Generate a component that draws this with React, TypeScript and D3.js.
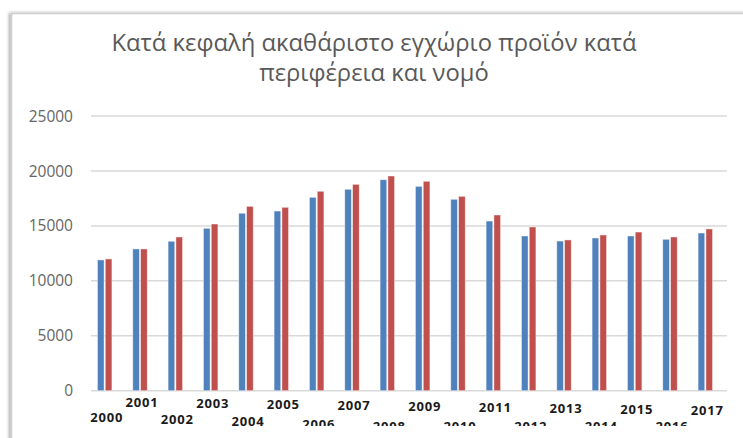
import { useRef, useEffect } from 'react';
import * as d3 from 'd3';

const years = [
  '2000', '2001', '2002', '2003', '2004', '2005', '2006', '2007', '2008',
  '2009', '2010', '2011', '2012', '2013', '2014', '2015', '2016', '2017',
];

// blue series
const seriesA = [
  11900, 12900, 13600, 14780, 16150, 16350, 17600, 18330, 19200,
  18600, 17420, 15440, 14080, 13620, 13900, 14080, 13780, 14350,
];

// red series
const seriesB = [
  11990, 12900, 13990, 15170, 16780, 16690, 18150, 18780, 19540,
  19060, 17690, 15990, 14900, 13720, 14170, 14440, 13990, 14720,
];

const yTicks = [0, 5000, 10000, 15000, 20000, 25000];

const titleLines = ['Κατά κεφαλή ακαθάριστο εγχώριο προϊόν κατά', 'περιφέρεια και νομό'];

const colors = ['#4f81bd', '#c0504d'];

export default function App() {
  const svgRef = useRef<SVGSVGElement>(null);
  const width = 743;
  const height = 438;

  useEffect(() => {
    if (!svgRef.current) return;
    const svg = d3.select(svgRef.current);
    svg.selectAll('*').remove();

    const plot = { left: 87, right: 723, top: 116, bottom: 390.7 };

    // frame with soft shadow
    const defs = svg.append('defs');
    const shadow = defs.append('filter').attr('id', 'shadow').attr('x', '-5%').attr('y', '-5%').attr('width', '110%').attr('height', '110%');
    shadow.append('feDropShadow').attr('dx', -1.5).attr('dy', 0).attr('stdDeviation', 1.8).attr('flood-color', '#000').attr('flood-opacity', 0.4);
    defs.append('clipPath').attr('id', 'labelClip')
      .append('rect').attr('x', 0).attr('y', 0).attr('width', width).attr('height', 426);

    svg.append('rect').attr('width', width).attr('height', height).attr('fill', '#fff');
    svg.append('rect')
      .attr('x', 11.5).attr('y', 13.5).attr('width', width + 10).attr('height', height)
      .attr('fill', '#fff')
      .attr('stroke', '#cfcfcf')
      .attr('stroke-width', 1.5)
      .attr('filter', 'url(#shadow)');

    // title, two lines
    svg.append('g')
      .selectAll('text')
      .data(titleLines)
      .join('text')
      .attr('x', 374)
      .attr('y', (d, i) => 51 + i * 30)
      .attr('text-anchor', 'middle')
      .attr('font-family', '"Open Sans", sans-serif')
      .attr('font-size', 23.8)
      .attr('fill', '#595959')
      .text((d) => d);

    const x0 = d3.scaleBand().domain(years).range([plot.left, plot.right]).paddingInner(0.59).paddingOuter(0.295);
    const x1 = d3.scaleBand().domain(['a', 'b']).range([0, x0.bandwidth()]).paddingInner(0.15);
    const y = d3.scaleLinear().domain([0, 25000]).range([plot.bottom, plot.top]);

    // grid lines
    svg.append('g')
      .selectAll('line')
      .data(yTicks)
      .join('line')
      .attr('x1', 91)
      .attr('x2', 727)
      .attr('y1', (d) => y(d))
      .attr('y2', (d) => y(d))
      .attr('stroke', '#d9d9d9')
      .attr('stroke-width', 1.5);

    // y tick labels
    svg.append('g')
      .selectAll('text')
      .data(yTicks)
      .join('text')
      .attr('x', 73)
      .attr('y', (d) => y(d))
      .attr('dy', '0.36em')
      .attr('text-anchor', 'end')
      .attr('font-family', '"Open Sans", sans-serif')
      .attr('font-size', 15.5)
      .attr('fill', '#666')
      .text((d) => d);

    // bars
    const rows = years.map((yr, i) => ({ yr, vals: [seriesA[i], seriesB[i]] }));
    svg.append('g')
      .selectAll('g')
      .data(rows)
      .join('g')
      .attr('transform', (d) => `translate(${x0(d.yr)},0)`)
      .selectAll('rect')
      .data((d) => d.vals.map((v, k) => ({ key: k === 0 ? 'a' : 'b', v, k })))
      .join('rect')
      .attr('x', (d) => x1(d.key) || 0)
      .attr('y', (d) => y(d.v))
      .attr('width', x1.bandwidth())
      .attr('height', (d) => plot.bottom - y(d.v))
      .attr('fill', (d) => colors[d.k])
      .attr('stroke', 'rgba(255,255,255,0.55)')
      .attr('stroke-width', 0.8);

    // staggered year labels
    svg.append('g')
      .attr('clip-path', 'url(#labelClip)')
      .selectAll('text')
      .data(years)
      .join('text')
      .attr('x', (d) => (x0(d) || 0) + x0.bandwidth() / 2 + 2)
      .attr('y', (d, i) => (i % 2 === 1 ? 406 + i * 0.5 : 422 + Math.min(i, 8) * 1.1))
      .attr('text-anchor', 'middle')
      .attr('font-family', '"Open Sans", sans-serif')
      .attr('font-weight', 700)
      .attr('font-size', 13)
      .attr('letter-spacing', 0.8)
      .attr('fill', '#1a1a1a')
      .text((d) => d);
  }, []);

  return (
    <div style={{ position: 'absolute', left: 0, top: 0 }}>
      <svg ref={svgRef} width={width} height={height} style={{ display: 'block' }} />
    </div>
  );
}
